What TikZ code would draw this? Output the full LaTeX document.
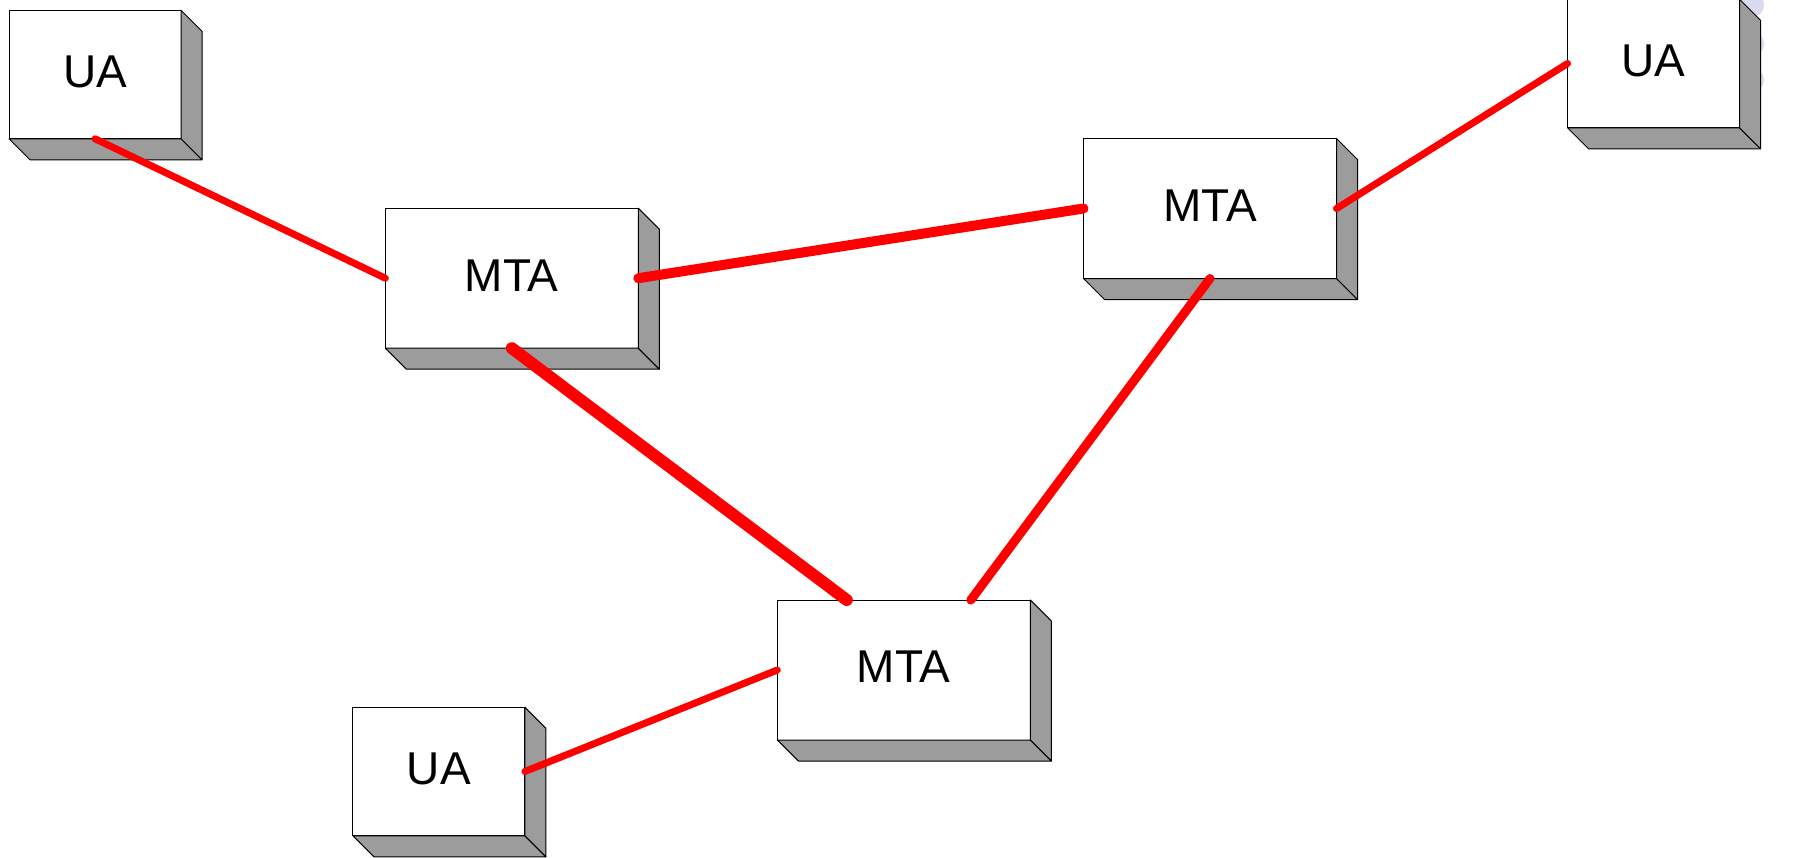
\documentclass[tikz,border=0pt]{standalone}
\usepackage{fontspec}
\setmainfont{Liberation Sans}
\usetikzlibrary{calc}
\definecolor{depthgray}{HTML}{9C9C9C}
\definecolor{lav}{HTML}{D8DAF0}
\tikzset{
  front/.style={draw=black, line width=0.5pt, fill=white, inner sep=0pt, outer sep=0pt,
    font=\fontsize{23}{27}\selectfont, text depth=3pt},
  uabox/.style={front, minimum width=86pt, minimum height=64.25pt},
  mtabox/.style={front, minimum width=126.5pt, minimum height=70pt},
  side/.style={draw=black, line width=0.5pt, fill=depthgray, line join=round},
  link/.style={draw=red, line cap=round},
}
\newcommand{\depthof}[1]{%
  \path[side] (#1.south west) -- (#1.south east) -- ($(#1.south east)+(21,21)$) -- ($(#1.south west)+(21,21)$) -- cycle;
  \path[side] (#1.north east) -- ($(#1.north east)+(21,21)$) -- ($(#1.south east)+(21,21)$) -- (#1.south east) -- cycle;
}
\begin{document}
\begin{tikzpicture}[x=0.5pt,y=-0.5pt]
\useasboundingbox (0,0) rectangle (1802,857);
% faint circles peeking out behind the top-right box
\fill[lav] (1752,5) circle (12);
\fill[lav] (1752,44) circle (12);
\fill[lav] (1752,80) circle (12);
% boxes
\node[uabox] (ua1) at (95,74.5) {UA};
\node[uabox] (ua2) at (1653.5,63.5) {UA};
\node[uabox] (ua3) at (438.9,771.5) {UA};
\node[mtabox] (m1) at (511.8,278.2) {MTA};
\node[mtabox] (m2) at (1210,208.5) {MTA};
\node[mtabox] (m3) at (903.8,670) {MTA};
\depthof{ua1}
\depthof{ua2}
\depthof{ua3}
\depthof{m1}
\depthof{m2}
\depthof{m3}
% connectors
\draw[link, line width=3.5pt] (ua1.south) -- (m1.west);
\draw[link, line width=5pt] (m1.east) -- (m2.west);
\draw[link, line width=6pt] (m1.south) -- ($(m3.north)+(-57,0)$);
\draw[link, line width=4.5pt] (m2.south) -- ($(m3.north)+(67,0)$);
\draw[link, line width=3.5pt] (m2.east) -- (ua2.west);
\draw[link, line width=3.5pt] (ua3.east) -- (m3.west);
\end{tikzpicture}
\end{document}
